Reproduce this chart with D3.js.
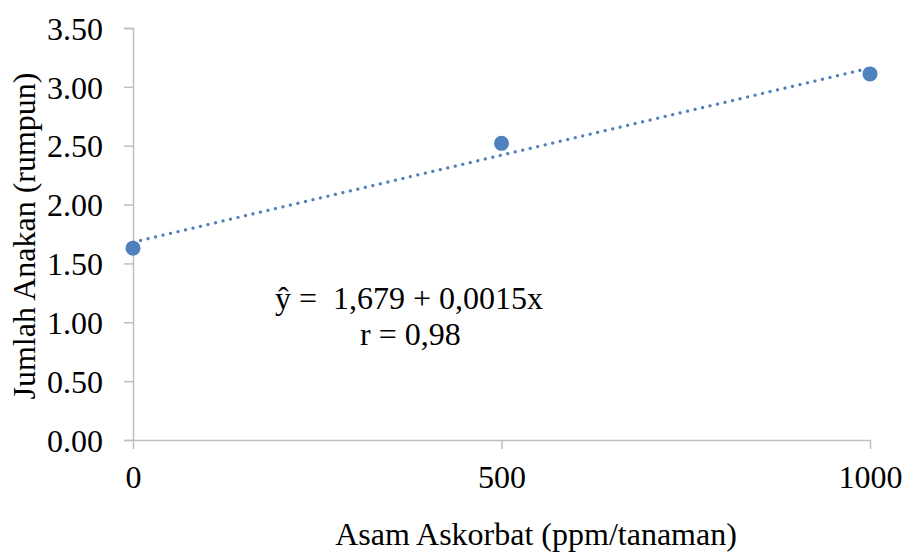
<!DOCTYPE html>
<html>
<head>
<meta charset="utf-8">
<script src="https://cdn.jsdelivr.net/npm/d3@7"></script>
<style>
  body { margin: 0; background: #fff; }
  svg text { font-family: "Liberation Serif", "Times New Roman", serif; fill: #000; }
</style>
</head>
<body>
<svg id="chart"></svg>
<script>
// data
const doses = [0, 500, 1000];
const tillers = [1.63, 2.52, 3.11];
const yTicks = [0, 0.5, 1, 1.5, 2, 2.5, 3, 3.5];
const xTicks = [0, 500, 1000];
const eqLines = ["ŷ =  1,679 + 0,0015x", "r = 0,98"];

const width = 904, height = 554;
const fs = "32px";
const svg = d3.select("#chart").attr("width", width).attr("height", height);

const x = d3.scaleLinear().domain([0, 1000]).range([133, 870]);
const y = d3.scaleLinear().domain([0, 3.5]).range([440, 28]);

const blue = "#4f81bd";
const grey = "#bfbfbf";

// y axis
const yAxis = svg.append("g")
  .attr("transform", "translate(" + x(0) + ",0)")
  .call(d3.axisLeft(y).tickValues(yTicks).tickFormat(d3.format(".2f")).tickSize(9).tickPadding(21));
yAxis.select(".domain").attr("stroke", grey).attr("stroke-width", 1.5);
yAxis.selectAll(".tick line").attr("stroke", grey).attr("stroke-width", 1.5);
yAxis.selectAll("text").style("font-size", fs).attr("dy", "0.35em");

// x axis
const xAxis = svg.append("g")
  .attr("transform", "translate(0," + y(0) + ")")
  .call(d3.axisBottom(x).tickValues(xTicks).tickFormat(d3.format("d")).tickSize(9).tickSizeOuter(0).tickPadding(16));
xAxis.select(".domain").attr("stroke", grey).attr("stroke-width", 1.5);
xAxis.selectAll(".tick line").attr("stroke", grey).attr("stroke-width", 1.5);
xAxis.selectAll("text").style("font-size", fs);

// linear trend from the points
const n = doses.length;
const mx = d3.mean(doses), my = d3.mean(tillers);
let sxy = 0, sxx = 0;
for (let i = 0; i < n; i++) {
  sxy += (doses[i] - mx) * (tillers[i] - my);
  sxx += (doses[i] - mx) * (doses[i] - mx);
}
const slope = sxy / sxx, icpt = my - slope * mx;
const trend = [0, 1000].map(d => [d, icpt + slope * d]);

svg.append("path")
  .datum(trend)
  .attr("fill", "none")
  .attr("stroke", blue)
  .attr("stroke-width", 3.2)
  .attr("stroke-linecap", "round")
  .attr("stroke-dasharray", "0.1,7.6")
  .attr("d", d3.line().x(d => x(d[0])).y(d => y(d[1])));

svg.selectAll("circle.pt")
  .data(doses)
  .enter()
  .append("circle")
  .attr("class", "pt")
  .attr("cx", d => x(d))
  .attr("cy", (d, i) => y(tillers[i]))
  .attr("r", 7.5)
  .attr("fill", blue);

// equation
svg.append("text").attr("x", 275).attr("y", 309).style("font-size", fs).style("white-space", "pre").text(eqLines[0]);
svg.append("text").attr("x", 360).attr("y", 345).style("font-size", fs).text(eqLines[1]);

// axis titles
svg.append("text")
  .attr("x", 536).attr("y", 545)
  .attr("text-anchor", "middle")
  .style("font-size", fs)
  .text("Asam Askorbat (ppm/tanaman)");

svg.append("text")
  .attr("transform", "translate(35,236) rotate(-90)")
  .attr("text-anchor", "middle")
  .style("font-size", fs)
  .text("Jumlah Anakan (rumpun)");
</script>
</body>
</html>
